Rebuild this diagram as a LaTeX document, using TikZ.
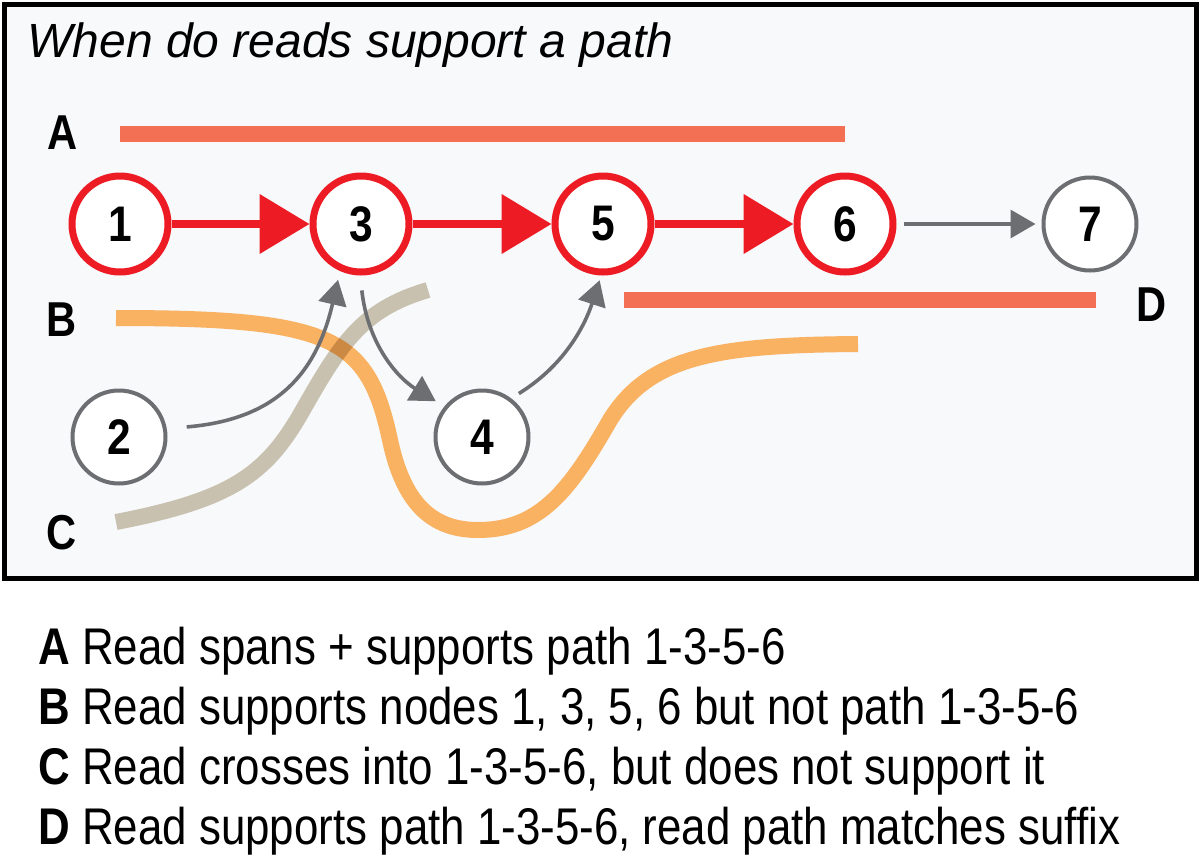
\documentclass[tikz,border=0pt]{standalone}
\usepackage{fontspec}
\setmainfont{Liberation Sans}[FakeStretch=0.85]
\newfontfamily\titlefont{Liberation Sans}
\usetikzlibrary{arrows.meta}
\definecolor{pathred}{HTML}{ED1C24}
\definecolor{readA}{HTML}{F37055}
\definecolor{readB}{HTML}{F9B162}
\definecolor{readC}{HTML}{D0C6B3}
\definecolor{edgegray}{HTML}{6D6E71}
\definecolor{panel}{HTML}{F7F9FB}
\begin{document}
\begin{tikzpicture}[x=0.5pt, y=-0.5pt,
  pathnode/.style={circle, draw=pathred, line width=3.5pt, fill=white, minimum size=48pt, inner sep=0pt, font=\fontsize{25}{25}\selectfont\bfseries},
  othernode/.style={circle, draw=edgegray, line width=2pt, fill=white, minimum size=46.5pt, inner sep=0pt, font=\fontsize{25}{25}\selectfont\bfseries},
  patharrow/.style={draw=pathred, line width=4pt, -{Triangle[length=25pt, width=29pt]}},
  edgearrow/.style={draw=edgegray, line width=1.8pt, -{Triangle[length=12.5pt, width=14pt]}},
  read/.style={line width=8pt},
  readlabel/.style={font=\fontsize{24.5}{24.5}\selectfont\bfseries},
  key/.style={anchor=base west, inner sep=0pt, font=\fontsize{25.8}{25.8}\selectfont}]
\useasboundingbox (0,0) rectangle (1201,858);
\draw[line width=2.5pt, fill=panel] (4,4) rectangle (1196,578);
\node[anchor=base west, inner sep=0pt, font=\titlefont\itshape\fontsize{24}{24}\selectfont] (title) at (27,57) {When do reads support a path};
% reads
\draw[read, readA] (120,134) -- (845,134);
\draw[read, readA] (624,300) -- (1096,300);
\draw[read, readB] (116,318) .. controls (335,318) and (368,338) .. (390,440)
  .. controls (403,501) and (430,530) .. (478,530)
  .. controls (540,530) and (570,490) .. (610,420)
  .. controls (650,355) and (720,345) .. (858,344);
\draw[read, readC, blend mode=multiply] (116,522) .. controls (230,500) and (265,475) .. (300,415)
  .. controls (340,345) and (360,310) .. (428,290);
\node[readlabel] (labA) at (63,133) {A};
\node[readlabel] (labB) at (62,320) {B};
\node[readlabel] (labC) at (62,533) {C};
\node[readlabel] (labD) at (1152,305) {D};
% graph
\node[pathnode] (n1) at (120,224) {1};
\node[pathnode] (n3) at (361,224) {3};
\node[pathnode] (n5) at (603,224) {5};
\node[pathnode] (n6) at (845,224) {6};
\node[othernode] (n7) at (1090,224) {7};
\node[othernode] (n2) at (119,437) {2};
\node[othernode] (n4) at (482,437) {4};
\draw[patharrow] (n1) -- (n3);
\draw[patharrow] (n3) -- (n5);
\draw[patharrow] (n5) -- (n6);
\draw[edgearrow, shorten <=3.5pt, shorten >=3pt] (n6) -- (n7);
\draw[edgearrow, shorten <=10pt, shorten >=4.5pt] (n2.10) .. controls (270,420) and (315,380) .. (n3.-114);
\draw[edgearrow, shorten <=7.5pt, shorten >=5pt] (n3.-91) .. controls (368,345) and (398,378) .. (n4.141);
\draw[edgearrow, shorten <=4.5pt, shorten >=2.5pt] (n4.53) .. controls (565,365) and (585,325) .. (n5.-92);
% legend
\node[key] (keyA) at (38,664) {\textbf{A} Read spans + supports path 1-3-5-6};
\node[key] (keyB) at (38,724) {\textbf{B} Read supports nodes 1, 3, 5, 6 but not path 1-3-5-6};
\node[key] (keyC) at (38,784) {\textbf{C} Read crosses into 1-3-5-6, but does not support it};
\node[key] (keyD) at (38,844) {\textbf{D} Read supports path 1-3-5-6, read path matches suffix};
\end{tikzpicture}
\end{document}
